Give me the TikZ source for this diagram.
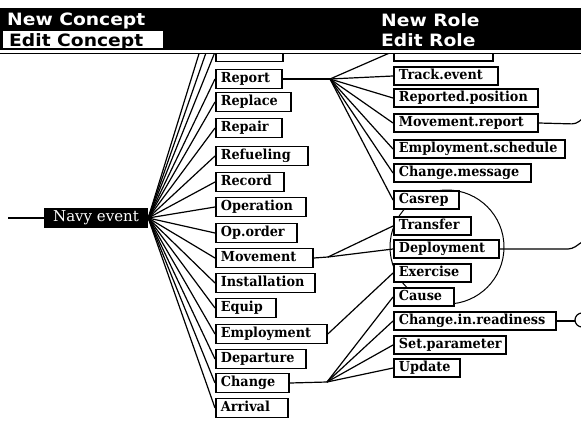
\documentclass[tikz,border=0pt]{standalone}
\usepackage{fontspec}
\setmainfont{DejaVu Serif}
\newfontfamily\boxfont{DejaVu Serif}[FakeStretch=0.93]
\newfontfamily\hdrfont{DejaVu Sans}[FakeStretch=1.1]
\begin{document}
\begin{tikzpicture}[x=1pt,y=-1pt,
  bx/.style={draw, line width=1.8pt, fill=white, anchor=west, inner xsep=5pt, inner ysep=0pt,
    minimum height=19pt, text height=10.5pt, text depth=3.2pt, align=left,
    font=\boxfont\bfseries\fontsize{13.8}{14}\selectfont},
  rb/.style={bx, minimum height=18.5pt},
  ln/.style={line width=1.2pt},
  hdr/.style={anchor=base west, inner sep=0pt, font=\hdrfont\bfseries\fontsize{17}{17}\selectfont},
]
\fill[white] (0,0) rectangle (581,421);
\useasboundingbox (0,0) rectangle (581,421);

% circle behind the role boxes
\draw[line width=1pt] (447,247) circle[radius=57pt];

% free ends and junctions
\coordinate (lstart) at (8,218);
\coordinate (h1) at (215,27);
\coordinate (h2) at (215,2);
\coordinate (rj) at (330,79);
\coordinate (mj) at (328,257);
\coordinate (cj) at (327,382);
\coordinate (mrend) at (582,119);
\coordinate (dpend) at (582,242);
\coordinate (crend) at (575,321);

% Navy event
\node[fill=black, text=white, minimum width=104pt, minimum height=20pt, inner sep=0pt,
  font=\fontsize{15}{15}\selectfont] (navy) at (96,218) {Navy event};

% concept boxes (left column)
\node[bx, text width=57pt] (ltop) at (215,52) {};
\node[bx, text width=56pt] (report) at (215,79) {Report};
\node[bx, text width=65pt] (replace) at (215,102) {Replace};
\node[bx, text width=56pt] (repair) at (215,128) {Repair};
\node[bx, text width=82pt] (refuel) at (215,156) {Refueling};
\node[bx, text width=58pt] (record) at (215,182) {Record};
\node[bx, text width=80pt] (operation) at (215,207) {Operation};
\node[bx, text width=71pt] (oporder) at (215,233) {Op.order};
\node[bx, text width=87pt] (movement) at (215,258) {Movement};
\node[bx, text width=89pt] (install) at (215,283) {Installation};
\node[bx, text width=50pt] (equip) at (215,308) {Equip};
\node[bx, text width=101pt] (employ) at (215,334) {Employment};
\node[bx, text width=80pt] (depart) at (215,359) {Departure};
\node[bx, text width=63pt] (change) at (215,383) {Change};
\node[bx, text width=62pt] (arrival) at (215,408) {Arrival};

% role boxes (right column)
\node[rb, text width=89pt] (rtop) at (393,51.5) {};
\node[rb, text width=94pt] (track) at (393,76) {Track.event};
\node[rb, text width=134pt] (reppos) at (393,98) {Reported.position};
\node[rb, text width=134pt] (mrep) at (393,123) {Movement.report};
\node[rb, text width=161pt] (esched) at (393,149) {Employment.schedule};
\node[rb, text width=127pt] (cmsg) at (393,173) {Change.message};
\node[rb, text width=55pt] (casrep) at (393,200) {Casrep};
\node[rb, text width=67pt] (transfer) at (393,226) {Transfer};
\node[rb, text width=95pt] (deploy) at (393,249) {Deployment};
\node[rb, text width=67pt] (exercise) at (393,273) {Exercise};
\node[rb, text width=50pt] (cause) at (393,297) {Cause};
\node[rb, text width=152pt] (cir) at (393,321) {Change.in.readiness};
\node[rb, text width=102pt] (setpar) at (393,345) {Set.parameter};
\node[rb, text width=56pt] (update) at (393,368) {Update};

% connectors
\begin{scope}[ln]
\draw (lstart) -- (navy.west);
\foreach \b in {h2,h1}{\draw (navy.east) -- (\b);}
\foreach \b in {ltop,report,replace,repair,refuel,record,operation,oporder,movement,install,equip,employ,depart,change,arrival}{
  \draw (navy.east) -- (\b.west);}
\draw (report.east) -- (rj);
\foreach \b in {rtop,track,reppos,mrep,esched,cmsg,casrep}{\draw (rj) -- (\b.west);}
\draw (movement.east) -- (mj);
\foreach \b in {transfer,deploy}{\draw (mj) -- (\b.west);}
\draw (employ.east) -- (exercise.west);
\draw (change.east) -- (cj);
\foreach \b in {cause,cir,setpar,update}{\draw (cj) -- (\b.west);}
\draw[rounded corners=4pt] (mrep.east) -- (576,124) -- (mrend);
\draw[rounded corners=4pt] (deploy.east) -- (572,249) -- (dpend);
\draw (cir.east) -- (crend);
\draw (582,320) circle[radius=7pt];
\end{scope}

% header
\fill[white] (0,0) rectangle (581,53);
\fill[black] (0,8) rectangle (581,50);
\draw[line width=1.2pt] (0,53.5) -- (581,53.5);
\fill[white] (3,31) rectangle (163,48);
\node[hdr, text=white] (newc) at (7,25) {New Concept};
\node[hdr, text=black] (editc) at (9,46) {Edit Concept};
\node[hdr, text=white] (newr) at (381,26) {New Role};
\node[hdr, text=white] (editr) at (381,46) {Edit Role};
\end{tikzpicture}
\end{document}
